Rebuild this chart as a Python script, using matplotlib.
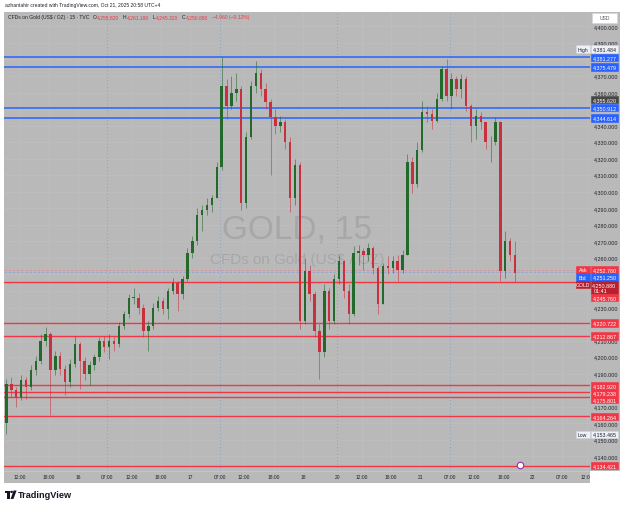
import matplotlib
matplotlib.use("Agg")
import matplotlib.pyplot as plt
import matplotlib.transforms as mtransforms
from matplotlib.patches import Rectangle, Circle, Polygon

plt.rcParams['font.family'] = ['Liberation Sans', 'DejaVu Sans']

# ── data: hourly candles, 09:00 Oct 15 -> 20:00 Oct 21 (UTC+4) ────────────────
first_open = 4160.0
closes = [4184, 4180, 4176, 4186, 4182, 4192, 4198, 4210, 4214, 4192,
          4201, 4193, 4185, 4196, 4208, 4198, 4190, 4195, 4200, 4210,
          4206, 4210, 4208, 4219, 4226, 4236, 4236, 4230, 4216, 4219,
          4230, 4234, 4229, 4240, 4245, 4238, 4247, 4263, 4270, 4286,
          4289, 4292, 4296, 4315, 4364, 4352, 4360, 4362, 4293, 4333,
          4364, 4372, 4362, 4354, 4345, 4340, 4342, 4330, 4296, 4316,
          4222, 4252, 4238, 4216, 4203, 4240, 4222, 4247, 4258, 4240,
          4226, 4263, 4264, 4262, 4266, 4254, 4232, 4255, 4254, 4258,
          4253, 4262, 4318, 4305, 4325, 4348, 4347, 4343, 4356, 4374,
          4358, 4368, 4362, 4368, 4352, 4340, 4346, 4342, 4330, 4330,
          4342, 4252, 4270, 4262, 4250.88]
highs = [4187, 4188, 4182, 4189, 4188, 4195, 4201, 4214, 4218, 4215,
         4204, 4203, 4195, 4199, 4213, 4209, 4200, 4198, 4202, 4212,
         4213, 4214, 4212, 4221, 4228, 4238, 4242, 4239, 4232, 4222,
         4233, 4237, 4236, 4242, 4248, 4246, 4249, 4266, 4273, 4290,
         4292, 4296, 4298, 4318, 4381.484, 4368, 4370, 4372, 4364, 4336,
         4367, 4379, 4374, 4366, 4356, 4350, 4346, 4344, 4333, 4320,
         4318, 4260, 4256, 4240, 4220, 4244, 4242, 4250, 4262, 4259,
         4244, 4267, 4268, 4266, 4269, 4267, 4255, 4257, 4261, 4261,
         4262, 4265, 4323, 4321, 4330, 4355, 4352, 4350, 4360, 4376,
         4380, 4372, 4370, 4371, 4370, 4353, 4350, 4348, 4342, 4334,
         4345, 4343, 4276, 4272, 4270]
lows = [4153.465, 4176, 4170, 4174, 4175, 4180, 4189, 4196, 4207, 4165,
        4189, 4189, 4177, 4182, 4194, 4181, 4186, 4183, 4192, 4198,
        4203, 4199, 4204, 4206, 4217, 4224, 4232, 4226, 4212, 4204,
        4217, 4228, 4226, 4223, 4238, 4228, 4235, 4246, 4260, 4268,
        4276, 4286, 4288, 4296, 4313, 4344, 4350, 4355, 4289, 4290,
        4332, 4360, 4358, 4350, 4310, 4335, 4336, 4326, 4288, 4292,
        4217, 4220, 4234, 4212, 4187, 4200, 4217, 4220, 4244, 4236,
        4220, 4225, 4256, 4253, 4258, 4250, 4226, 4232, 4250, 4251,
        4246, 4251, 4262, 4299, 4303, 4324, 4342, 4338, 4342, 4355,
        4355, 4350, 4358, 4357, 4349, 4330, 4332, 4338, 4326, 4318,
        4328, 4246, 4248, 4258, 4245.32]

price_ticks = list(range(4140, 4401, 10))
time_ticks = [3, 9, 15, 21, 26, 32, 38, 44, 49, 55, 61, 68, 73, 79, 85, 91,
              96, 102, 108, 114, 119]
time_labels = ["12:00", "18:00", "16", "07:00", "12:00", "18:00", "17",
               "07:00", "12:00", "18:00", "18", "20", "12:00", "18:00", "21",
               "07:00", "12:00", "18:00", "22", "07:00", "12:00"]
session_marks = [21, 44, 68, 91]

blue_levels = [4381.277, 4375.479, 4350.912, 4344.614]
red_levels = [4245.760, 4220.722, 4212.867, 4182.920, 4179.238, 4175.801,
              4164.264, 4134.421]
ask_price, bid_price, last_price = 4252.780, 4251.250, 4250.880
range_high, range_low = 4381.484, 4153.465
marker_price = 4355.620
header_ohlc = [("O", 4255.820), ("H", 4261.180), ("L", 4245.320), ("C", 4250.880)]
change, change_pct = -4.960, -0.12

# ── colours ──────────────────────────────────────────────────────────────────
BG = '#b9b9b9'
GRID = '#bfbfbf'
UP = '#24692c'
DOWN = '#c9303e'
BLUE = '#2962ff'
RED = '#f23645'
DARKRED = '#b8202d'
TXT = '#1f222b'
LIGHT = '#eef1f7'

W, H = 625, 510
PANE_L, PANE_R, PANE_T, PANE_B = 4, 590, 12.5, 472
AXIS_R, TIME_B = 620, 484


def fx(px):
    return px / W


def fy(py):
    return 1 - py / H


fig = plt.figure(figsize=(W / 100, H / 100), dpi=100)
fig.patch.set_facecolor('white')

ax = fig.add_axes([fx(PANE_L), fy(PANE_B), (PANE_R - PANE_L) / W, (PANE_B - PANE_T) / H])
ax2 = fig.add_axes([fx(PANE_R), fy(PANE_B), (AXIS_R - PANE_R) / W, (PANE_B - PANE_T) / H])
tax = fig.add_axes([fx(PANE_L), fy(TIME_B), (PANE_R - PANE_L) / W, (TIME_B - PANE_B) / H])

for a in (ax, ax2, tax):
    a.set_facecolor(BG)
    a.set_xticks([])
    a.set_yticks([])
    for s in a.spines.values():
        s.set_visible(False)

ax.set_xlim(-0.13, 119.7)
ax.set_ylim(4131.2, 4409.0)
ax2.set_ylim(ax.get_ylim())
ax2.set_xlim(0, 1)
tax.set_xlim(ax.get_xlim())
tax.set_ylim(0, 1)

# ── grid & session marks ─────────────────────────────────────────────────────
for p in price_ticks:
    ax.axhline(p, color=GRID, lw=0.5, zorder=0)
for t in time_ticks:
    ax.axvline(t, color=GRID, lw=0.5, zorder=0)
for t in session_marks:
    ax.axvline(t, color='#8a9ccc', lw=0.6, ls=(0, (1.5, 2.5)), zorder=1)
tax.axhline(1, color='#c9c9c9', lw=0.6)

# ── watermark ────────────────────────────────────────────────────────────────
ax.text(0.5, 0.527, "GOLD, 15", transform=ax.transAxes, ha='center', va='center',
        fontsize=24, color='#a7a7a7', zorder=1)
ax.text(0.5, 0.461, "CFDs on Gold (US$ / OZ)", transform=ax.transAxes,
        ha='center', va='center', fontsize=11, color='#a7a7a7', zorder=1)

# ── level lines ──────────────────────────────────────────────────────────────
for v in blue_levels:
    ax.axhline(v, color=BLUE, lw=1.1, zorder=3)
for v in red_levels:
    ax.axhline(v, color=RED, lw=1.0, zorder=3)
ax.axhline(ask_price, color='#d98f98', lw=0.6, ls=(0, (3, 2)), zorder=2)
ax.axhline(bid_price, color='#93a6d8', lw=0.6, ls=(0, (3, 2)), zorder=2)

# ── candles ──────────────────────────────────────────────────────────────────
opens = [first_open] + closes[:-1]
xs = [i + 0.375 for i in range(len(closes))]
cols = [UP if c >= o else DOWN for o, c in zip(opens, closes)]
ax.vlines(xs, lows, highs, colors=cols, lw=0.55, alpha=0.7, zorder=4)
ax.bar(xs, [max(abs(c - o), 0.4) for o, c in zip(opens, closes)],
       bottom=[min(o, c) for o, c in zip(opens, closes)],
       width=0.5, color=cols, zorder=5)

# event icon at bottom of pane
blend = mtransforms.blended_transform_factory(ax.transData, ax.transAxes)
ax.scatter([len(closes) + 0.4], [0.014], transform=blend, s=22, fc='white',
           ec='#9c27b0', lw=0.8, zorder=6, clip_on=False)


# ── price tags ───────────────────────────────────────────────────────────────
def price_py(p):
    return H - ax.transData.transform((0, p))[1]


def tag(py, text, fc, tc='white', ec=None, prefix=None, sub=None, h=7.2):
    hh = h + (6.4 if sub else 0)
    top = py - h / 2
    fig.add_artist(Rectangle((fx(591), fy(top + hh)), 27 / W, hh / H,
                             transform=fig.transFigure, fc=fc, ec=ec or fc, lw=0.4))
    fig.text(fx(604.5), fy(py), text, ha='center', va='center', fontsize=3.9, color=tc)
    if sub:
        fig.text(fx(594), fy(py + 6.4), sub, ha='left', va='center', fontsize=3.9, color=tc)
    if prefix:
        fig.add_artist(Rectangle((fx(575.5), fy(top + h)), 14.5 / W, h / H,
                                 transform=fig.transFigure, fc=fc, ec=ec or fc, lw=0.4))
        fig.text(fx(582.8), fy(py), prefix, ha='center', va='center', fontsize=3.7, color=tc)
    return top, top + hh


boxes = []
high_py = price_py(range_high) - 8
boxes.append(tag(high_py, f"{range_high:,.3f}", LIGHT, TXT, '#d1d4dc', prefix="High"))

tags = [(v, BLUE, 'white', None, None, None) for v in blue_levels]
tags += [(marker_price, '#474747', 'white', None, None, None),
         (ask_price, RED, 'white', None, "Ask", None),
         (bid_price, BLUE, 'white', None, "Bid", None),
         (last_price, DARKRED, 'white', None, "GOLD", "01:41"),
         (range_low, LIGHT, TXT, '#d1d4dc', "Low", None)]
tags += [(v, RED, 'white', None, None, None) for v in red_levels]
tags.sort(key=lambda r: -r[0])

bottom = 0
for v, fc, tc, ec, pre, sub in tags:
    py = max(price_py(v), bottom + 3.6)
    box = tag(py, f"{v:,.3f}", fc, tc, ec, pre, sub)
    boxes.append(box)
    bottom = box[1]

# ── price scale (labels hidden where a tag covers them) ─────────────────────
pblend = mtransforms.blended_transform_factory(ax2.transAxes, ax2.transData)
for p in price_ticks:
    py = price_py(p)
    if any(b0 - 1.0 < py < b1 + 1.0 for b0, b1 in boxes):
        continue
    ax2.text(0.14, p, f"{p:,.3f}", transform=pblend, ha='left', va='center',
             fontsize=3.9, color=TXT)

# ── time scale ───────────────────────────────────────────────────────────────
for t, lab in zip(time_ticks, time_labels):
    tax.text(t, 0.5, lab, ha='center', va='center', fontsize=3.5, color=TXT,
             clip_on=True)

# currency box
fig.add_artist(Rectangle((fx(592), fy(24)), 25 / W, 10 / H, transform=fig.transFigure,
                         fc='white', ec='#d1d4dc', lw=0.4))
fig.text(fx(604.5), fy(19), "USD", ha='center', va='center', fontsize=3.6, color='#555')

# ── header texts ─────────────────────────────────────────────────────────────
fig.text(fx(5), fy(5.5), "azhantahir created with TradingView.com, Oct 21, 2025 20:58 UTC+4",
         ha='left', va='center', fontsize=3.6, color=TXT)
prev = ax.text(fx(8), fy(20), "CFDs on Gold (US$ / OZ) · 15 · TVC",
               transform=fig.transFigure, fontsize=3.6, color=TXT, va='bottom', ha='left')
for k, v in header_ohlc:
    prev = ax.annotate(k, xy=(1, 0), xycoords=prev, xytext=(2.6, 0), textcoords='offset points',
                       fontsize=3.6, color=TXT, va='bottom', ha='left')
    prev = ax.annotate(f"{v:,.3f}", xy=(1, 0), xycoords=prev, xytext=(0.2, 0),
                       textcoords='offset points', fontsize=3.6, color=RED, va='bottom', ha='left')
ax.annotate(f"{change:+.3f}".replace('-', '−') + f" ({change_pct:+.2f}%)".replace('-', '−'),
            xy=(1, 0), xycoords=prev, xytext=(2.6, 0), textcoords='offset points',
            fontsize=3.6, color=RED, va='bottom', ha='left')


# ── TradingView logo ─────────────────────────────────────────────────────────
def P(x, y):
    return (fx(x), fy(y))


fig.add_artist(Polygon([P(5, 491.5), P(10, 491.5), P(10, 500), P(7.4, 500), P(7.4, 494.3), P(5, 494.3)],
                       closed=True, transform=fig.transFigure, fc='#131722', ec='none'))
fig.add_artist(Circle(P(11.6, 492.9), 1.4 / W, transform=fig.transFigure, fc='#131722', ec='none'))
fig.add_artist(Polygon([P(13.6, 491.5), P(16.6, 491.5), P(13.4, 500), P(10.6, 500)],
                       closed=True, transform=fig.transFigure, fc='#131722', ec='none'))
fig.text(fx(18), fy(496), "TradingView", ha='left', va='center', fontsize=6.6,
         fontweight='bold', color='#131722')

fig.savefig("out.png", dpi=100, facecolor='white')
